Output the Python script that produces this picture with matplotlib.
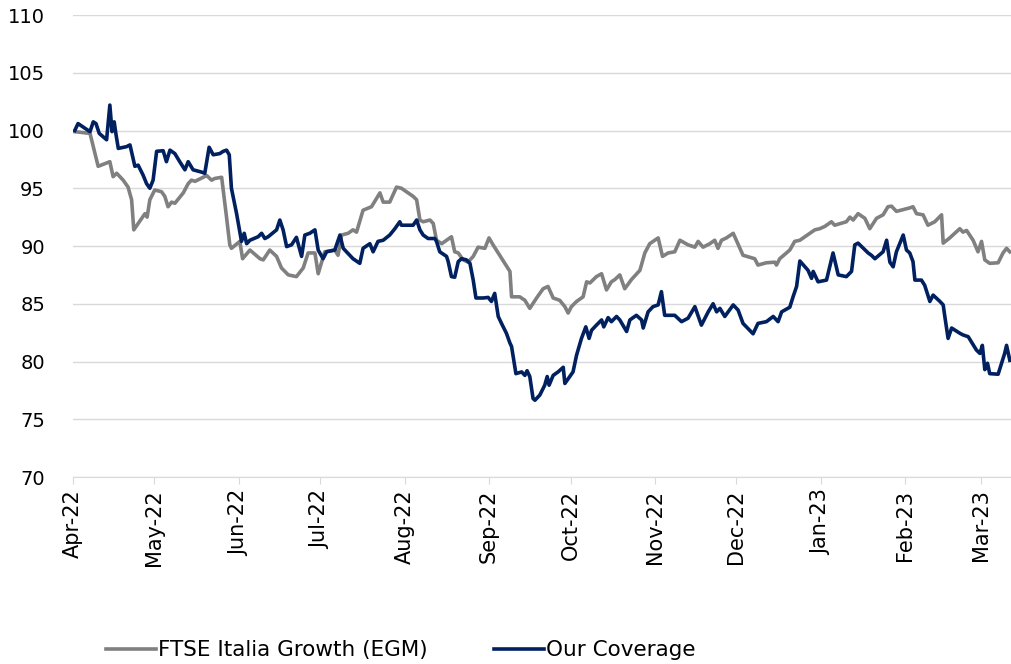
import numpy as np
import pandas as pd
import matplotlib
matplotlib.use("Agg")
import matplotlib.pyplot as plt
import matplotlib.dates as mdates

# days after 2022-04-01 and index level (base 100)
ftse_days = [0.7, 6.3, 9.3, 13.6, 14.8, 16.1, 18.5, 20.3, 21.6, 22.4, 25.3, 26.5, 27.3, 28.3, 30.1,
             32.6, 33.8, 35.0, 36.3, 37.5, 40.6, 42.4, 43.6, 44.9, 49.2, 51.0, 52.2, 54.7, 56.5, 57.7,
             58.3, 61.4, 62.4, 65.1, 68.8, 70.0, 72.4, 74.9, 76.7, 79.2, 82.2, 84.7, 86.5, 89.0, 90.2,
             92.6, 96.3, 97.5, 98.8, 101.2, 103.0, 104.3, 106.7, 109.8, 112.9, 114.1, 116.5, 119.0,
             120.8, 125.1, 126.4, 127.6, 128.8, 131.3, 132.5, 133.7, 135.6, 139.2, 140.4, 141.7,
             143.5, 145.3, 147.2, 149.0, 151.5, 153.0, 154.5, 156.4, 160.7, 161.3, 164.3, 166.2,
             168.0, 170.5, 172.9, 174.7, 176.6, 179.0, 180.9, 182.1, 183.3, 185.2, 187.6, 188.9,
             190.1, 192.5, 194.4, 196.2, 198.0, 199.3, 201.1, 202.9, 205.4, 208.5, 210.3, 212.1,
             215.2, 216.8, 218.9, 221.3, 223.2, 226.2, 228.7, 229.9, 231.7, 234.2, 236.0, 237.2,
             238.5, 240.3, 242.8, 246.4, 250.7, 251.9, 255.0, 258.1, 258.7, 259.9, 263.6, 265.4,
             267.3, 271.0, 272.8, 274.6, 276.5, 278.9, 280.1, 284.4, 285.7, 286.9, 288.7, 291.2,
             293.0, 295.5, 297.9, 299.7, 301.0, 302.8, 307.7, 308.9, 310.2, 312.6, 314.4, 316.9,
             319.4, 320.0, 322.4, 326.1, 327.3, 328.6, 331.0, 332.8, 334.1, 335.3, 337.1, 340.2,
             342.0, 343.3, 344.5]
ftse_vals = [99.9, 99.75, 96.9, 97.3, 96.0, 96.3, 95.7, 95.1, 94.0, 91.4, 92.4, 92.8, 92.5, 94.0, 94.85,
             94.7, 94.3, 93.4, 93.8, 93.7, 94.6, 95.4, 95.7, 95.6, 96.1, 95.7, 95.85, 95.95, 92.5, 90.1,
             89.8, 90.4, 88.9, 89.65, 88.9, 88.8, 89.65, 89.1, 88.1, 87.5, 87.35, 88.1, 89.4, 89.4, 87.6,
             89.5, 89.65, 89.2, 90.95, 91.1, 91.4, 91.2, 93.1, 93.4, 94.6, 93.8, 93.8, 95.1,
             95.0, 94.3, 94.0, 92.25, 92.1, 92.25, 91.95, 90.5, 90.2, 90.8, 89.5, 89.4,
             88.8, 88.6, 89.1, 89.9, 89.8, 90.7, 90.1, 89.4, 87.8, 85.6, 85.6, 85.3,
             84.6, 85.5, 86.3, 86.5, 85.5, 85.3, 84.75, 84.2, 84.75, 85.2, 85.6, 86.9,
             86.8, 87.35, 87.6, 86.2, 86.9, 87.1, 87.5, 86.3, 87.1, 87.9, 89.4, 90.2,
             90.7, 89.1, 89.4, 89.5, 90.5, 90.1, 89.9, 90.4, 89.9, 90.2, 90.5, 89.8,
             90.5, 90.7, 91.1, 89.2, 88.9, 88.35, 88.55, 88.6, 88.35, 88.9, 89.65, 90.4,
             90.5, 91.1, 91.4, 91.5, 91.7, 92.1, 91.8, 92.1, 92.5, 92.25, 92.8, 92.4,
             91.5, 92.4, 92.7, 93.4, 93.45, 93.0, 93.3, 93.4, 92.8, 92.7, 91.8, 92.1,
             92.7, 90.25, 90.7, 91.5, 91.2, 91.35, 90.5, 89.5, 90.4, 88.8, 88.5, 88.55,
             89.4, 89.8, 89.5]

cov_days = [0.7, 1.9, 6.3, 7.5, 8.5, 9.7, 12.4, 13.6, 14.4, 15.2, 15.8, 16.7, 19.7, 21.0, 22.8,
            24.0, 25.8, 27.1, 28.3, 29.5, 30.8, 33.2, 34.4, 35.7, 37.5, 39.3, 41.2, 42.4, 44.2,
            47.3, 48.5, 50.1, 51.6, 54.0, 55.3, 56.5, 57.5, 58.3, 60.2, 62.0, 63.0, 63.9, 65.1,
            68.1, 69.4, 70.6, 71.8, 74.9, 76.1, 77.3, 78.6, 80.4, 82.2, 84.1, 85.3, 87.1, 89.0,
            90.2, 92.0, 93.3, 96.3, 98.2, 99.4, 101.8, 103.0, 105.5, 106.7, 109.2, 110.4, 112.2,
            114.1, 116.5, 118.4, 120.2, 120.8, 125.1, 126.4, 127.6, 128.8, 130.6, 133.1, 133.7,
            134.9, 137.4, 138.0, 139.2, 140.4, 141.7, 142.9, 144.7, 146.0, 147.2, 148.2, 150.9,
            152.7, 153.9, 155.1, 156.4, 157.6, 159.4, 160.7, 161.3, 162.9, 165.0, 166.2, 167.0,
            168.0, 169.2, 169.9, 171.7, 173.5, 174.4, 175.1, 176.6, 178.4, 180.3, 180.9, 182.7,
            183.9, 185.2, 187.0, 188.6, 189.8, 190.7, 192.5, 194.4, 195.2, 196.8, 198.0, 199.9,
            201.1, 203.6, 204.8, 207.2, 209.1, 209.7, 211.5, 213.3, 215.2, 216.4, 217.6, 221.3,
            223.8, 226.2, 228.7, 231.1, 233.6, 235.4, 236.7, 237.9, 239.7, 242.8, 244.6, 246.4,
            250.1, 251.9, 255.0, 257.5, 259.3, 260.6, 263.6, 264.8, 266.1, 267.3, 270.3, 271.6,
            272.2, 274.0, 277.1, 279.5, 281.4, 284.4, 286.3, 287.5, 288.7, 292.4, 293.6, 294.9,
            297.9, 299.2, 300.4, 301.6, 302.8, 305.3, 306.5, 307.7, 308.9, 309.6, 312.0, 313.2,
            315.1, 316.3, 318.8, 320.0, 320.6, 321.8, 323.1, 326.1, 327.3, 329.2, 332.2, 333.5,
            334.4, 335.3, 336.3, 337.1, 340.2, 342.6, 343.3, 344.5]
cov_vals = [100.0, 100.6, 99.9, 100.75, 100.6, 99.75, 99.2, 102.2, 99.9, 100.75, 99.75, 98.45, 98.6, 98.75, 96.9,
            97.0, 96.15, 95.4, 95.0, 95.7, 98.2, 98.25, 97.3, 98.3, 98.0, 97.3, 96.6, 97.3, 96.6,
            96.4, 96.3, 98.55, 97.9, 98.0, 98.2, 98.3, 97.9, 95.0, 92.8, 90.4, 91.1, 90.2, 90.5,
            90.8, 91.1, 90.65, 90.8, 91.4, 92.25, 91.4, 89.95, 90.1, 90.75, 89.1, 90.95, 91.1, 91.4,
            89.65, 88.9, 89.5, 89.65, 90.95, 89.8, 89.2, 88.9, 88.5, 89.8, 90.2, 89.5, 90.4,
            90.5, 90.95, 91.5, 92.1, 91.8, 91.8, 92.25, 91.4, 90.95, 90.65, 90.65, 90.4,
            89.5, 89.1, 88.65, 87.35, 87.3, 88.65, 88.9, 88.8, 88.5, 87.05, 85.5, 85.5,
            85.55, 85.2, 85.9, 83.9, 83.3, 82.45, 81.6, 81.3, 78.95, 79.1, 78.8, 79.2,
            78.7, 76.8, 76.65, 77.1, 77.95, 78.7, 77.95, 78.8, 79.1, 79.5, 78.1, 78.7,
            79.1, 80.55, 82.0, 83.0, 82.0, 82.7, 83.15, 83.6, 83.0, 83.8, 83.45, 83.9,
            83.6, 82.6, 83.6, 84.0, 83.6, 82.9, 84.3, 84.75, 84.9, 86.05, 84.0, 84.0,
            83.45, 83.75, 84.75, 83.15, 84.3, 85.0, 84.3, 84.6, 83.9, 84.9, 84.45, 83.3,
            82.4, 83.3, 83.45, 83.9, 83.45, 84.3, 84.7, 85.6, 86.5, 88.7, 87.9, 87.2,
            87.8, 86.9, 87.05, 89.4, 87.5, 87.35, 87.8, 90.1, 90.25, 89.4, 89.2, 88.9,
            89.5, 90.5, 88.6, 88.2, 89.5, 90.95, 89.65, 89.4, 88.65, 87.05, 87.05, 86.6,
            85.2, 85.75, 85.2, 84.9, 83.9, 82.0, 82.9, 82.45, 82.3, 82.15, 81.0, 80.7,
            81.4, 79.3, 79.85, 78.95, 78.9, 80.7, 81.4, 80.1]

start = pd.Timestamp("2022-04-01")
ftse_dates = start + pd.to_timedelta(ftse_days, unit="D")
cov_dates = start + pd.to_timedelta(cov_days, unit="D")

fig = plt.figure(figsize=(10.12, 6.64), dpi=100)
ax = fig.add_axes([0.072, 0.2816, 0.928, 0.6958])

ax.plot(ftse_dates, ftse_vals, color="#808080", lw=2.6, label="FTSE Italia Growth (EGM)")
ax.plot(cov_dates, cov_vals, color="#002060", lw=2.6, label="Our Coverage")

ax.set_ylim(70, 110)
ax.set_yticks(np.arange(70, 111, 5))
ax.set_xlim(start, start + pd.Timedelta(days=345.3))
ax.xaxis.set_major_locator(mdates.MonthLocator())
ax.xaxis.set_major_formatter(mdates.DateFormatter("%b-%y"))

ax.grid(axis="y", color="#d9d9d9", lw=1)
ax.set_axisbelow(True)
for s in ["left", "right", "top"]:
    ax.spines[s].set_visible(False)
ax.spines["bottom"].set_color("#d9d9d9")
ax.tick_params(axis="y", length=0, labelsize=14, pad=20, colors="#000000")
ax.tick_params(axis="x", length=5, color="#d9d9d9", labelsize=15, rotation=90, pad=4)

fig.legend(loc="center", bbox_to_anchor=(0.396, 0.021), ncol=2, frameon=False,
           fontsize=15.5, handlelength=2.3, handletextpad=0.1, columnspacing=3.1)

fig.savefig("out.png", dpi=100)
